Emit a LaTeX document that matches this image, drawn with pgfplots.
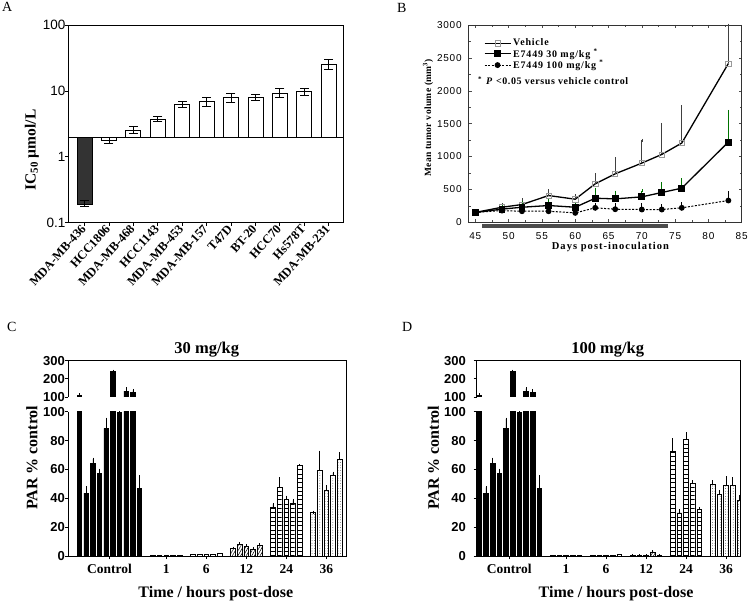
\documentclass[border=0pt]{standalone}
\usepackage{fontspec}
\setmainfont{Liberation Serif}
\setsansfont{Liberation Sans}
\usepackage{pgfplots}
\pgfplotsset{compat=1.18}
\usepackage{pgfplotstable}
\usetikzlibrary{patterns,patterns.meta}
\newcommand{\fs}[1]{\fontsize{#1}{#1}\selectfont}

% ---------- Panel B data ----------
\pgfplotstableread{
d v e
45 150 0
49 229 40
52 270 71
56 407 76
60 351 56
63 585 137
66 737 229
70 900 346
73 1032 458
76 1205 549
83 2415 585
}\vehicle
\pgfplotstableread{
d v e
45 150 0
49 200 60
52 229 75
56 255 75
60 229 60
63 366 137
66 356 102
70 387 96
73 453 132
76 519 127
83 1220 468
}\thirty
\pgfplotstableread{
d v e
45 150 0
49 178 25
52 168 25
56 168 25
60 143 25
63 220 50
66 199 65
70 194 76
73 194 56
76 220 60
83 331 117
}\hundred

% ---------- Panels C, D data ----------
\pgfplotstableread{
x y e
0 107 6
1 43.5 4
2 64.2 3
3 57.3 2.3
4 88.5 6.5
5 241 3
6 99.5 1.8
7 133 13
8 126 11
9 46.9 8.3
}\ctrl
\pgfplotstableread{
x y
11 0.5
12 0.2
13 0.2
14 0.3
15 0.3
}\Cone
\pgfplotstableread{
x y
17 1.2
18 1.3
19 0.8
20 0.9
21 1.5
}\Csix
\pgfplotstableread{
x y e
23 5.0 0.6
24 8.3 0.6
25 6.9 0.5
26 4.6 0.5
27 7.4 0.5
}\Ctwelve
\pgfplotstableread{
x y e
29 33.7 2.1
30 47.6 6.2
31 39.3 1.7
32 36.5 2.1
33 62.6 0.4
}\Ctwentyfour
\pgfplotstableread{
x y e
35 30.0 0.3
36 59.1 13
37 45.3 3
38 55.9 1.6
39 67.0 4.1
}\Cthirtysix
\pgfplotstableread{
x y
11 0.2
12 0.2
13 0.2
14 0.2
15 0.2
}\Done
\pgfplotstableread{
x y
17 0.3
18 0.4
19 0.3
20 0.3
21 0.8
}\Dsix
\pgfplotstableread{
x y e
23 0.5 0.1
24 0.3 0.1
25 0.3 0.1
26 2.8 0.3
27 0.3 0.1
}\Dtwelve
\pgfplotstableread{
x y e
29 72.7 8
30 29.8 2
31 80.6 4.4
32 50.3 1.2
33 32.3 0.8
}\Dtwentyfour
\pgfplotstableread{
x y e
35 49.7 1.8
36 42.5 2
37 49.2 5
38 49.2 4.4
39 38.8 2.3
}\Dthirtysix

\pgfplotsset{
  pbar/.style={ybar, bar width=4.6pt, bar shift=0pt, draw=black, line width=0.7pt},
  perr/.style={error bars/.cd, y dir=plus, y explicit,
     error bar style={line width=0.6pt, black, solid},
     error mark options={mark size=1.3pt, line width=0.6pt, black, solid}},
  aerr/.style={black, line width=0.8pt, mark=-, mark size=4.5pt, mark options={solid, black, line width=0.8pt}},
  parcommon/.style={anchor=south west, scale only axis,
     axis y line*=left, tick align=outside, major tick length=3pt,
     axis line style={line width=0.8pt, black}, tick style={line width=0.8pt, black},
     /pgf/number format/assume math mode=true,
     yticklabel style={font=\sffamily\bfseries\fs{13}},
     clip=true},
  parlow/.style={parcommon, height=144.3pt, ymin=0, ymax=100, ytick={0,20,...,100},
     axis x line*=bottom, xtick={4.5,13,19,25,31,37},
     xticklabels={Control,1,6,12,24,36},
     xticklabel style={font=\bfseries\fs{13.5}, yshift=-2pt},
     xlabel={Time / hours post-dose}, ylabel={PAR \% control},
     xlabel style={font=\bfseries\fs{16}, anchor=center},
     ylabel style={font=\bfseries\fs{16}, anchor=center}},
  parup/.style={parcommon, height=36.3pt, ymin=100, ymax=300, ytick={100,200,300},
     axis x line*=top, xtick=\empty},
}

\begin{document}
\begin{tikzpicture}[x=1pt,y=1pt]
\useasboundingbox (0,0) rectangle (748,603);
\node[anchor=base west, inner sep=0, font=\fs{14}] at (2,591.3) {A};
\node[anchor=base west, inner sep=0, font=\fs{14}] at (397,590.3) {B};
\node[anchor=base west, inner sep=0, font=\fs{14}] at (7,271.3) {C};
\node[anchor=base west, inner sep=0, font=\fs{14}] at (402,271.3) {D};

% ================= Panel A =================
\begin{axis}[
  at={(68pt,380.3pt)}, anchor=south west, scale only axis,
  width=275pt, height=197.7pt,
  xmin=-0.68, xmax=10.59,
  y coord trafo/.code={\pgfmathparse{log10(#1)-0.30103}},
  ymin=0.1, ymax=100,
  ytick={0.1,1,10,100}, yticklabels={0.1,1,10,100},
  extra y ticks={2}, extra y tick labels={},
  extra y tick style={grid=major, major grid style={black, line width=0.8pt}, major tick length=0pt},
  xtick={0,1,2,3,4,5,6,7,8,9,10},
  xticklabels={MDA-MB-436,HCC1806,MDA-MB-468,HCC1143,MDA-MB-453,MDA-MB-157,T47D,BT-20,HCC70,Hs578T,MDA-MB-231},
  tick pos=left, tick align=outside, major tick length=3pt,
  axis line style={line width=0.8pt}, tick style={black, line width=0.7pt},
  xticklabel style={rotate=48, anchor=east, font=\bfseries\fs{12.5}, inner sep=1.5pt},
  yticklabel style={font=\sffamily\fs{13.5}, xshift=4pt},
  ylabel={IC\textsubscript{50} µmol/L},
  ylabel style={at={(rel axis cs:-0.131,0.367)}, anchor=center, font=\bfseries\fs{15.5}},
]
\addplot[ybar, bar width=15pt, bar shift=0pt, draw=black, fill=black!80, line width=0.8pt] coordinates {(0,0.19)};
\addplot[ybar, bar width=15pt, bar shift=0pt, draw=black, fill=white, line width=0.8pt] coordinates {(1,1.8) (2,2.5) (3,3.75) (4,6.2) (5,6.85) (6,7.9) (7,8.0) (8,9.3) (9,9.7) (10,25.5)};
\addplot[aerr] coordinates {(0,0.178) (0,0.215)};
\addplot[aerr] coordinates {(1,1.58) (1,1.94)};
\addplot[aerr] coordinates {(2,2.23) (2,2.92)};
\addplot[aerr] coordinates {(3,3.4) (3,4.05)};
\addplot[aerr] coordinates {(4,5.55) (4,6.9)};
\addplot[aerr] coordinates {(5,5.9) (5,7.95)};
\addplot[aerr] coordinates {(6,6.8) (6,9.1)};
\addplot[aerr] coordinates {(7,7.2) (7,8.8)};
\addplot[aerr] coordinates {(8,8.1) (8,10.8)};
\addplot[aerr] coordinates {(9,8.5) (9,10.8)};
\addplot[aerr] coordinates {(10,21) (10,30)};
\end{axis}

% ================= Panel B =================
\begin{axis}[
  at={(468.7pt,380.7pt)}, anchor=south west, scale only axis,
  width=273pt, height=197.3pt,
  xmin=44, xmax=85, ymin=0, ymax=3000,
  xtick={45,50,...,85}, ytick={0,500,...,3000},
  minor x tick num=1, minor y tick num=1,
  tick align=inside, major tick length=3pt, minor tick length=2pt,
  axis line style={line width=0.7pt, black!80}, tick style={black!70, line width=0.5pt},
  scaled ticks=false, /pgf/number format/1000 sep={},
  /pgf/number format/assume math mode=true,
  ticklabel style={font=\sffamily\fs{10}\addfontfeatures{LetterSpace=8}},
  yticklabel style={xshift=-3.5pt},
  xticklabel style={yshift=-6.5pt},
  xlabel={Days post-inoculation},
  xlabel style={at={(rel axis cs:0.519,-0.124)}, anchor=center, font=\bfseries\fs{10.5}\addfontfeatures{LetterSpace=10}},
  ylabel={Mean tumor volume (mm\textsuperscript{3})},
  ylabel style={at={(rel axis cs:-0.149,0.529)}, anchor=center, font=\bfseries\fs{9.5}\addfontfeatures{LetterSpace=4}},
  clip=false,
  legend style={draw=none, fill=none, at={(rel axis cs:0.055,0.94)}, anchor=north west,
     font=\bfseries\fs{10}\addfontfeatures{LetterSpace=8}, row sep=-2.5pt, inner sep=0pt},
  legend cell align=left,
  legend image code/.code={\draw[mark repeat=2, mark phase=2, #1] plot coordinates {(0pt,0pt) (13pt,0pt) (26pt,0pt)};},
]
\addplot[black!70, line width=4.3pt, forget plot] coordinates {(46,-55) (74,-55)};
\addplot[black, line width=1.3pt, mark=square, mark size=2.6pt,
  mark options={draw=black!40, fill=white, line width=0.6pt},
  error bars/.cd, y dir=plus, y explicit,
  error bar style={black!75, line width=0.8pt},
  error mark options={mark size=1.5pt, black!75, line width=0.6pt}]
  table[x=d, y=v, y error=e] {\vehicle};
\addplot[black, line width=1.3pt, mark=square*, mark size=2.8pt,
  mark options={black, solid},
  error bars/.cd, y dir=plus, y explicit,
  error bar style={green!45!black, line width=0.8pt},
  error mark options={mark size=1.5pt, green!45!black, line width=0.6pt}]
  table[x=d, y=v, y error=e] {\thirty};
\addplot[black, line width=1pt, dash pattern=on 2pt off 1.5pt, mark=*, mark size=2.4pt,
  mark options={black, solid},
  error bars/.cd, y dir=plus, y explicit,
  error bar style={black, line width=0.9pt, solid},
  error mark options={mark size=1.5pt, black, line width=0.7pt, solid}]
  table[x=d, y=v, y error=e] {\hundred};
\legend{Vehicle, E7449 30 mg/kg \textsuperscript{*}, E7449 100 mg/kg \textsuperscript{*}}
\end{axis}
\node[anchor=base west, inner sep=0, font=\bfseries\fs{10}\addfontfeatures{LetterSpace=6}] at (478,518) {\textsuperscript{*}\hspace{4pt}\textit{P} <0.05 versus vehicle control};

% ================= Panel C =================
\begin{axis}[parlow, name=Clow, at={(68.3pt,47pt)}, width=278.4pt,
  xmin=-1.68, xmax=40.06,
  yticklabel style={xshift=3pt},
  xlabel style={at={(rel axis cs:0.53,-0.263)}},
  ylabel style={at={(rel axis cs:-0.131,0.681)}}]
\addplot[pbar, fill=black, perr] table[x=x, y=y, y error=e] {\ctrl};
\addplot[pbar, fill=white] table[x=x, y=y] {\Cone};
\addplot[pbar, fill=white] table[x=x, y=y] {\Csix};
\addplot[pbar, pattern={Lines[angle=60, distance=2.4pt, line width=0.5pt]}, perr] table[x=x, y=y, y error=e] {\Ctwelve};
\addplot[pbar, pattern={Lines[angle=0, distance=4.3pt, line width=0.6pt]}, perr] table[x=x, y=y, y error=e] {\Ctwentyfour};
\addplot[pbar, pattern={Dots[distance=2.6pt, radius=0.35pt]}, perr] table[x=x, y=y, y error=e] {\Cthirtysix};
\end{axis}
\begin{axis}[parup, name=Cup, at={(68.3pt,206pt)}, width=278.4pt,
  xmin=-1.68, xmax=40.06, yticklabel style={xshift=3pt}]
\addplot[restrict y to domain=100:400, pbar, fill=black, perr] table[x=x, y=y, y error=e] {\ctrl};
\end{axis}
\draw[line width=0.8pt] (Clow.south east) -- (Cup.north east);
\node[anchor=base, font=\bfseries\fs{16.5}] at (206.7,249.5) {30 mg/kg};

% ================= Panel D =================
\begin{axis}[parlow, name=Dlow, at={(476.7pt,47pt)}, width=264pt,
  xmin=-0.39, xmax=39.19,
  yticklabel style={xshift=-4.4pt},
  xlabel style={at={(rel axis cs:0.528,-0.263)}},
  ylabel style={at={(rel axis cs:-0.164,0.681)}}]
\addplot[pbar, fill=black, perr] table[x=x, y=y, y error=e] {\ctrl};
\addplot[pbar, fill=white] table[x=x, y=y] {\Done};
\addplot[pbar, fill=white] table[x=x, y=y] {\Dsix};
\addplot[pbar, pattern={Lines[angle=60, distance=2.4pt, line width=0.5pt]}, perr] table[x=x, y=y, y error=e] {\Dtwelve};
\addplot[pbar, pattern={Lines[angle=0, distance=4.3pt, line width=0.6pt]}, perr] table[x=x, y=y, y error=e] {\Dtwentyfour};
\addplot[pbar, pattern={Dots[distance=2.6pt, radius=0.35pt]}, perr] table[x=x, y=y, y error=e] {\Dthirtysix};
\end{axis}
\begin{axis}[parup, name=Dup, at={(476.7pt,206pt)}, width=264pt,
  xmin=-0.39, xmax=39.19, yticklabel style={xshift=-4.4pt}]
\addplot[restrict y to domain=100:400, pbar, fill=black, perr] table[x=x, y=y, y error=e] {\ctrl};
\end{axis}
\draw[line width=0.8pt] (Dlow.south east) -- (Dup.north east);
\node[anchor=base, font=\bfseries\fs{16.5}] at (607.7,249.5) {100 mg/kg};
\end{tikzpicture}
\end{document}
